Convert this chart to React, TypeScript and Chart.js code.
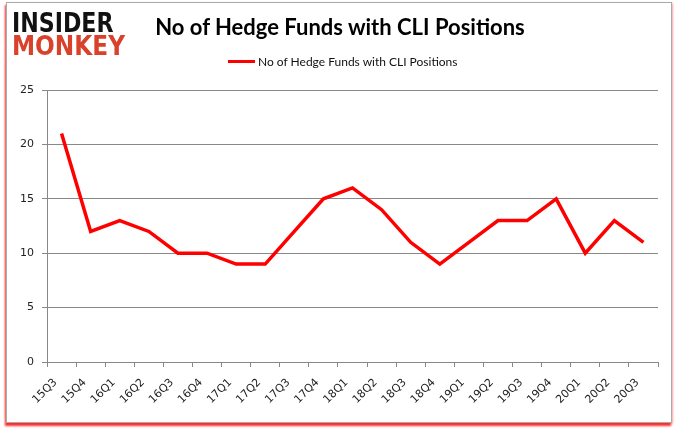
import React, { useEffect, useRef } from "react";
import { Chart, registerables } from "chart.js";

Chart.register(...registerables);

const categories = ["15Q3","15Q4","16Q1","16Q2","16Q3","16Q4","17Q1","17Q2","17Q3","17Q4","18Q1","18Q2","18Q3","18Q4","19Q1","19Q2","19Q3","19Q4","20Q1","20Q2","20Q3"];
const hedgeFunds = [21,12,13,12,10,10,9,9,12,15,16,14,11,9,11,13,13,15,10,13,11];
const seriesName = "No of Hedge Funds with CLI Positions";
const titleText = "No of Hedge Funds with CLI Positions";

export default function App() {
  const ref = useRef<HTMLCanvasElement | null>(null);
  useEffect(() => {
    document.body.style.margin = "0";
    if (!ref.current) return;
    const chart = new Chart(ref.current, {
      type: "line",
      data: {
        labels: categories,
        datasets: [{
          label: seriesName,
          data: hedgeFunds,
          borderColor: "#ff0000",
          backgroundColor: "#ff0000",
          borderWidth: 3.5,
          pointRadius: 0,
          tension: 0,
          borderJoinStyle: "miter",
        }],
      },
      options: {
        animation: false,
        responsive: true,
        maintainAspectRatio: false,
        layout: { padding: { left: 0, right: 22, top: 90, bottom: 0 } },
        plugins: { legend: { display: false }, title: { display: false }, tooltip: { enabled: false } },
        scales: {
          x: {
            offset: true,
            grid: { display: true, drawOnChartArea: false, drawTicks: true, tickLength: 5, color: "#888", offset: true },
            border: { display: true, color: "#888" },
            ticks: { minRotation: 45, maxRotation: 45, color: "#222", font: { family: "DejaVu Sans", size: 11 }, padding: 9, labelOffset: -6 },
            afterFit: (s: any) => { s.height = 71; },
          },
          y: {
            min: 0, max: 25,
            grid: { color: "#888", tickLength: 5 },
            border: { display: true, color: "#888" },
            ticks: { stepSize: 5, color: "#222", font: { family: "DejaVu Sans", size: 11 }, padding: 8 },
            afterFit: (s: any) => { s.width = 47; },
          },
        },
      },
    });
    return () => chart.destroy();
  }, []);

  const logoStyle: React.CSSProperties = { position: "absolute", left: 12, fontFamily: "DejaVu Sans", fontWeight: 900, lineHeight: 1, fontSize: 27, transformOrigin: "left top", whiteSpace: "nowrap" };

  return (
    <div style={{ position: "absolute", left: 0, top: 0, width: 680, height: 433, background: "#fff", overflow: "hidden" }}>
      <div style={{ position: "absolute", left: 6, top: 2, width: 664, height: 419, border: "1px solid #aaa", boxShadow: "-1px 3px 2px #ff2a2a, 1px 1px 2px #ffb0b0", background: "#fff" }} />
      <div style={{ position: "absolute", left: 0, top: 0, width: 680, height: 433 }}>
        <canvas ref={ref} />
      </div>
      <div style={{ ...logoStyle, top: 9, color: "#111", transform: "scaleX(0.82)" }}>INSIDER</div>
      <div style={{ ...logoStyle, top: 32, color: "#d9412b", transform: "scaleX(0.86)" }}>MONKEY</div>
      <div style={{ position: "absolute", left: 0, width: 680, top: 13, textAlign: "center", fontFamily: "Lato", fontWeight: 700, fontSize: 22, color: "#000" }}>{titleText}</div>
      <div style={{ position: "absolute", left: 228, top: 54, display: "flex", alignItems: "center", fontFamily: "Lato", fontSize: 12, color: "#111" }}>
        <span style={{ display: "inline-block", width: 27, height: 3, background: "#ff0000", marginRight: 3 }} />
        <span>{seriesName}</span>
      </div>
    </div>
  );
}
